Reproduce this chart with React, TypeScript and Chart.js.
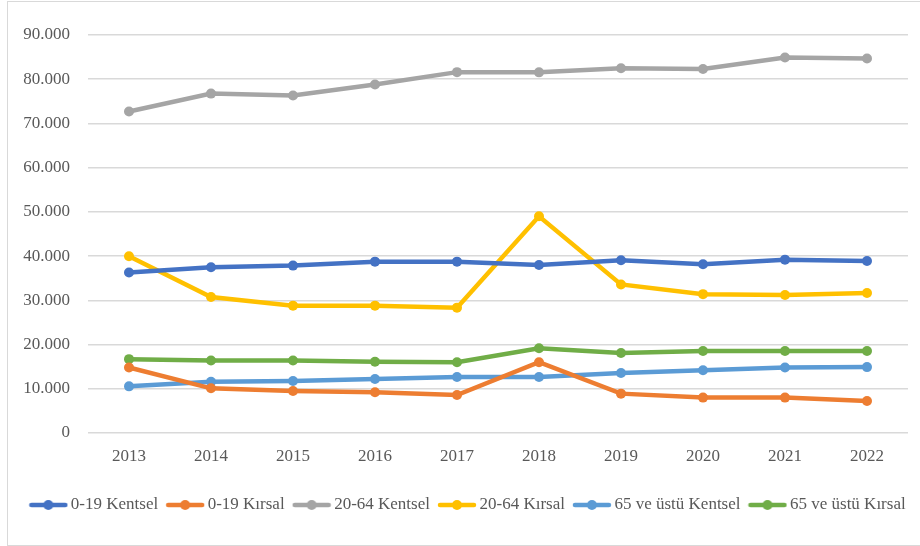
import React, { useEffect, useRef } from "react";
import { Chart, registerables } from "chart.js";

Chart.register(...registerables);

const years = ["2013", "2014", "2015", "2016", "2017", "2018", "2019", "2020", "2021", "2022"];

const kentsel0_19 = [36300, 37500, 37850, 38750, 38750, 38000, 39050, 38150, 39200, 38900];
const kirsal0_19 = [14800, 10100, 9500, 9200, 8600, 16000, 8900, 8000, 8000, 7250];
const kentsel20_64 = [72700, 76750, 76300, 78800, 81600, 81550, 82500, 82300, 84900, 84700];
const kirsal20_64 = [39950, 30750, 28800, 28800, 28350, 49000, 33600, 31400, 31200, 31650];
const kentsel65 = [10550, 11600, 11750, 12200, 12650, 12650, 13550, 14200, 14800, 14900];
const kirsal65 = [16700, 16400, 16400, 16100, 16000, 19150, 18100, 18550, 18550, 18550];

const seriesNames = [
  "0-19 Kentsel",
  "0-19 Kırsal",
  "20-64 Kentsel",
  "20-64 Kırsal",
  "65 ve üstü Kentsel",
  "65 ve üstü Kırsal",
];
const seriesData = [kentsel0_19, kirsal0_19, kentsel20_64, kirsal20_64, kentsel65, kirsal65];
const seriesColors = ["#4472C4", "#ED7D31", "#A5A5A5", "#FFC000", "#5B9BD5", "#70AD47"];

const yTicks = [0, 10000, 20000, 30000, 40000, 50000, 60000, 70000, 80000, 90000];

function formatTr(v: number): string {
  const s = Math.round(v).toString();
  return s.replace(/\B(?=(\d{3})+(?!\d))/g, ".");
}

function legendMarker(color: string): HTMLCanvasElement {
  const c = document.createElement("canvas");
  c.width = 40;
  c.height = 12;
  const ctx = c.getContext("2d")!;
  ctx.strokeStyle = color;
  ctx.lineWidth = 4.5;
  ctx.lineCap = "round";
  ctx.beginPath();
  ctx.moveTo(3, 6);
  ctx.lineTo(37, 6);
  ctx.stroke();
  ctx.fillStyle = color;
  ctx.beginPath();
  ctx.arc(20, 6, 5, 0, Math.PI * 2);
  ctx.fill();
  return c;
}

const legendShift = {
  id: "legendShift",
  afterLayout(chart: any) {
    const lg = chart.legend;
    if (lg) {
      lg.left += 16;
      lg.right += 16;
    }
  },
};

export default function App() {
  const ref = useRef<HTMLCanvasElement | null>(null);

  useEffect(() => {
    if (!ref.current) return;
    const markers = seriesColors.map(legendMarker);
    const chart = new Chart(ref.current, {
      type: "line",
      data: {
        labels: years,
        datasets: seriesNames.map((name, i) => ({
          label: name,
          data: seriesData[i],
          borderColor: seriesColors[i],
          backgroundColor: seriesColors[i],
          borderWidth: 4.5,
          pointRadius: 5,
          pointBorderWidth: 0,
          pointBackgroundColor: seriesColors[i],
          tension: 0,
        })),
      },
      plugins: [legendShift],
      options: {
        animation: false,
        responsive: false,
        maintainAspectRatio: false,
        layout: { padding: { top: 35, right: 12, bottom: 22.5, left: 0 } },
        plugins: {
          tooltip: { enabled: false },
          legend: {
            position: "bottom",
            labels: {
              color: "#595959",
              font: { family: "'Liberation Serif', serif", size: 17 },
              usePointStyle: true,
              pointStyleWidth: 28,
              padding: 13,
              generateLabels: (ch: any) => {
                const items = Chart.defaults.plugins.legend.labels.generateLabels(ch);
                return items.map((it: any, i: number) => ({ ...it, pointStyle: markers[i] }));
              },
            },
          },
        },
        scales: {
          x: {
            offset: true,
            grid: { display: false, drawTicks: false },
            border: { display: false },
            ticks: {
              color: "#595959",
              font: { family: "'Liberation Serif', serif", size: 17 },
              padding: 13,
              maxRotation: 0,
            },
            afterFit: (s: any) => {
              s.height = 50.5;
            },
          },
          y: {
            min: 0,
            max: 90000,
            afterBuildTicks: (s: any) => {
              s.ticks = yTicks.map((v) => ({ value: v }));
            },
            grid: { color: "#D9D9D9", lineWidth: 1.5, drawTicks: false },
            border: { display: false },
            ticks: {
              color: "#595959",
              font: { family: "'Liberation Serif', serif", size: 17 },
              padding: 18,
              callback: (v: any) => formatTr(Number(v)),
            },
            afterFit: (s: any) => {
              s.width = 88;
            },
          },
        },
      },
    });
    return () => chart.destroy();
  }, []);

  return (
    <div style={{ position: "absolute", left: 0, top: 0, width: 920, height: 546, background: "#fff" }}>
      <canvas ref={ref} width={920} height={546} style={{ position: "absolute", left: 0, top: 0 }} />
      <div
        style={{
          position: "absolute",
          left: 7,
          top: 1,
          width: 920,
          height: 543,
          border: "1px solid #D9D9D9",
          pointerEvents: "none",
        }}
      />
    </div>
  );
}
